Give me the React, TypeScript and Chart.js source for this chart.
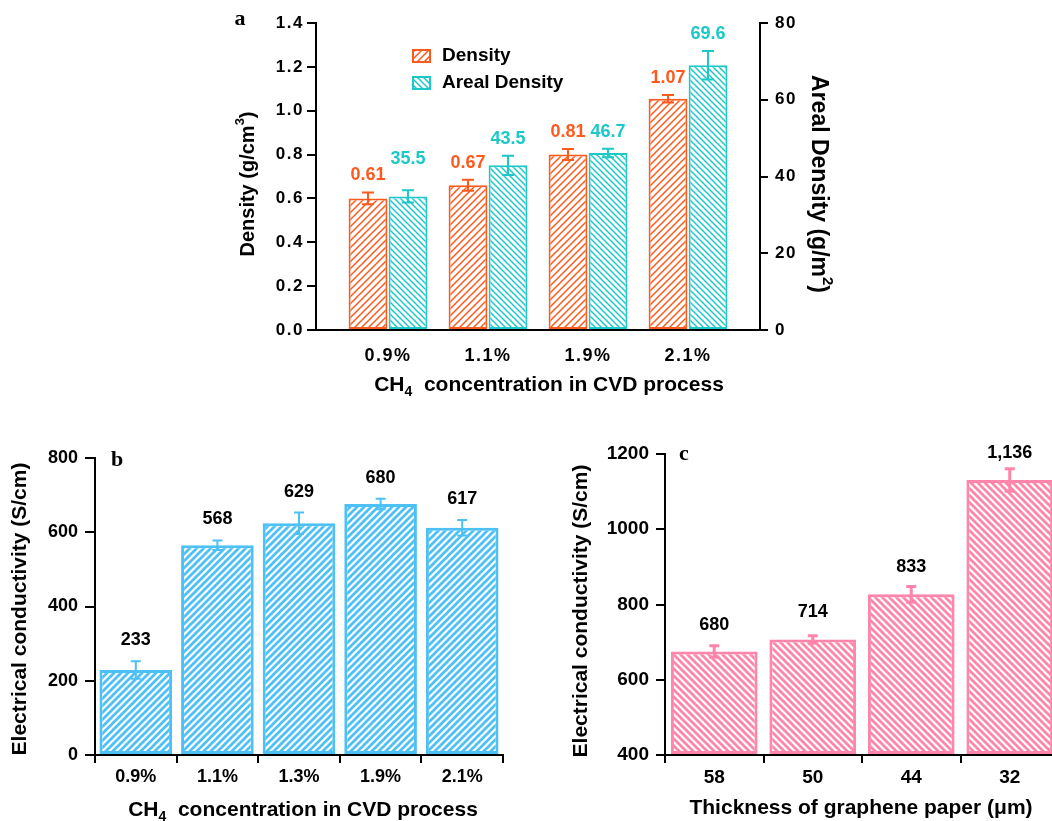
import React, { useEffect, useRef } from 'react';
import { Chart, registerables } from 'chart.js';
Chart.register(...registerables);

const FAM = "'Liberation Sans', Arial, Helvetica, sans-serif";
const SERIF = "'Liberation Serif', 'Times New Roman', serif";

// ---- Panel a ----
const catsA = ['0.9%', '1.1%', '1.9%', '2.1%'];
const densityA = [0.6, 0.66, 0.8, 1.055];
const densityErrA = [0.027, 0.025, 0.025, 0.017];
const densityLabelA = ['0.61', '0.67', '0.81', '1.07'];
const arealA = [34.8, 42.9, 46.1, 69.0];
const arealErrA = [1.6, 2.5, 1.1, 3.7];
const arealLabelA = ['35.5', '43.5', '46.7', '69.6'];

// ---- Panel b ----
const catsB = ['0.9%', '1.1%', '1.3%', '1.9%', '2.1%'];
const condB = [229, 565, 624, 676, 612];
const condErrB = [23.5, 13, 29, 14, 21];
const condLabelB = ['233', '568', '629', '680', '617'];

// ---- Panel c ----
const catsC = ['58', '50', '44', '32'];
const condC = [675, 707, 827, 1131];
const condErrC = [15.5, 10, 21, 30];
const condLabelC = ['680', '714', '833', '1,136'];

const ORANGE = '#FF5A1E';
const CYAN = '#1EC8C8';
const BLUE = '#4DC0F5';
const PINK = '#FF85AA';

function hatch(color: string, size: number, lw: number, dir: 'up' | 'down') {
  const c = document.createElement('canvas');
  c.width = size;
  c.height = size;
  const g = c.getContext('2d')!;
  g.fillStyle = '#fff';
  g.fillRect(0, 0, size, size);
  g.strokeStyle = color;
  g.lineWidth = lw;
  g.beginPath();
  for (const off of [-size, 0, size]) {
    if (dir === 'up') {
      g.moveTo(off - 1, size + 1);
      g.lineTo(off + size + 1, -1);
    } else {
      g.moveTo(off - 1, -1);
      g.lineTo(off + size + 1, size + 1);
    }
  }
  g.stroke();
  return g.createPattern(c, 'repeat')!;
}

type Seg = { t: string; s?: 'sub' | 'sup' };
function drawRich(ctx: CanvasRenderingContext2D, segs: Seg[], cx: number, cy: number, rot: number, size: number) {
  ctx.save();
  ctx.translate(cx, cy);
  ctx.rotate(rot);
  (ctx as any).letterSpacing = '0px';
  const fonts = segs.map((s) => `bold ${s.s ? Math.round(size * 0.65) : size}px ${FAM}`);
  let total = 0;
  const widths = segs.map((s, i) => {
    ctx.font = fonts[i];
    const w = ctx.measureText(s.t).width;
    total += w;
    return w;
  });
  let x = -total / 2;
  ctx.textAlign = 'left';
  ctx.textBaseline = 'middle';
  ctx.fillStyle = '#000';
  segs.forEach((s, i) => {
    ctx.font = fonts[i];
    const dy = s.s === 'sub' ? size * 0.35 : s.s === 'sup' ? -size * 0.4 : 0;
    ctx.fillText(s.t, x, dy);
    x += widths[i];
  });
  ctx.restore();
}

function errBar(ctx: CanvasRenderingContext2D, x: number, yT: number, yB: number, color: string, lw: number, half: number) {
  ctx.strokeStyle = color;
  ctx.lineWidth = lw;
  ctx.beginPath();
  ctx.moveTo(x, yT);
  ctx.lineTo(x, yB);
  ctx.moveTo(x - half, yT);
  ctx.lineTo(x + half, yT);
  ctx.moveTo(x - half, yB);
  ctx.lineTo(x + half, yB);
  ctx.stroke();
}

const axisGrid = (len: number) => ({
  display: true,
  drawOnChartArea: false,
  drawTicks: true,
  tickLength: len,
  color: '#000',
  lineWidth: 2,
});
const border = { display: true, color: '#000', width: 2 };
const font = (size: number) => ({ family: FAM, size, weight: 'bold' as const });
const plain = (v: any) => String(v);

export default function App() {
  const refA = useRef<HTMLCanvasElement>(null);
  const refB = useRef<HTMLCanvasElement>(null);
  const refC = useRef<HTMLCanvasElement>(null);

  useEffect(() => {
    Chart.defaults.color = '#000';
    Chart.defaults.font.family = FAM;
    const patOrange = hatch(ORANGE, 7, 1.5, 'up');
    const patCyan = hatch(CYAN, 6, 1.5, 'down');
    const patBlue = hatch(BLUE, 7, 2.7, 'up');
    const patPink = hatch(PINK, 7, 2.7, 'down');

    // ---------- Chart a ----------
    const ox = 220;
    const chartA = new Chart(refA.current!, {
      type: 'bar',
      data: {
        datasets: [
          {
            label: 'Density',
            data: densityA.map((y, i) => ({ x: i, y })),
            backgroundColor: patOrange,
            borderColor: ORANGE,
            borderWidth: 2,
            borderSkipped: false,
            yAxisID: 'y',
            categoryPercentage: 0.8,
            barPercentage: 0.97,
          },
          {
            label: 'Areal Density',
            data: arealA.map((y, i) => ({ x: i, y })),
            backgroundColor: patCyan,
            borderColor: CYAN,
            borderWidth: 2,
            borderSkipped: false,
            yAxisID: 'y1',
            categoryPercentage: 0.8,
            barPercentage: 0.97,
          },
        ],
      } as any,
      options: {
        animation: false,
        responsive: false,
        devicePixelRatio: 1,
        layout: { padding: { top: 23, left: 0, right: 0, bottom: 30 } },
        plugins: { legend: { display: false }, tooltip: { enabled: false } },
        scales: {
          x: {
            type: 'linear',
            min: -0.72,
            max: 3.72,
            offset: false,
            grid: { display: false },
            border,
            afterBuildTicks: (s: any) => {
              s.ticks = catsA.map((_, i) => ({ value: i }));
            },
            ticks: {
              callback: (v: any) => catsA[v] ?? '',
              font: font(18),
              color: '#000',
              padding: 7,
              maxRotation: 0,
              autoSkip: false,
            },
            afterFit: (s: any) => {
              s.height = 40;
            },
          },
          y: {
            type: 'linear',
            position: 'left',
            min: 0,
            max: 1.4,
            ticks: { stepSize: 0.2, callback: (v: any) => Number(v).toFixed(1), font: font(17), color: '#000', padding: 3 },
            grid: axisGrid(9),
            border,
            afterFit: (s: any) => {
              s.width = 96;
            },
          },
          y1: {
            type: 'linear',
            position: 'right',
            min: 0,
            max: 80,
            ticks: { stepSize: 20, callback: plain, font: font(17), color: '#000', padding: 7 },
            grid: axisGrid(8),
            border,
            afterFit: (s: any) => {
              s.width = 100;
            },
          },
        },
      } as any,
      plugins: [
        {
          id: 'spacingA',
          beforeDraw(c: any) {
            c.ctx.letterSpacing = '1.5px';
          },
        },
        {
          id: 'extrasA',
          afterDraw(c: any) {
            const ctx = c.ctx as CanvasRenderingContext2D;
            ctx.save();
            (ctx as any).letterSpacing = '0px';
            const sets = [
              { vals: densityA, errs: densityErrA, labels: densityLabelA, color: ORANGE, scale: c.scales.y },
              { vals: arealA, errs: arealErrA, labels: arealLabelA, color: CYAN, scale: c.scales.y1 },
            ];
            sets.forEach((s, di) => {
              const meta = c.getDatasetMeta(di);
              s.vals.forEach((v, j) => {
                const x = meta.data[j].x;
                const yT = s.scale.getPixelForValue(v + s.errs[j]);
                const yB = s.scale.getPixelForValue(v - s.errs[j]);
                errBar(ctx, x, yT, yB, s.color, 2, 6);
                ctx.fillStyle = s.color;
                ctx.font = `bold 18px ${FAM}`;
                ctx.textAlign = 'center';
                ctx.textBaseline = 'middle';
                const lift = di === 1 && j === 0 ? 31 : 17;
                ctx.fillText(s.labels[j], x, yT - lift);
              });
            });
            // legend
            const leg = [
              { t: 'Density', pat: patOrange, col: ORANGE, y: 49 },
              { t: 'Areal Density', pat: patCyan, col: CYAN, y: 76 },
            ];
            leg.forEach((l) => {
              const bx = 412 - ox;
              ctx.fillStyle = l.pat;
              ctx.fillRect(bx, l.y, 19, 14);
              ctx.strokeStyle = l.col;
              ctx.lineWidth = 2;
              ctx.strokeRect(bx + 1, l.y + 1, 17, 12);
              ctx.fillStyle = '#000';
              ctx.font = `bold 19px ${FAM}`;
              ctx.textAlign = 'left';
              ctx.textBaseline = 'middle';
              ctx.fillText(l.t, 442 - ox, l.y + 7);
            });
            drawRich(ctx, [{ t: 'Density (g/cm' }, { t: '3', s: 'sup' }, { t: ')' }], 248 - ox, 184, -Math.PI / 2, 20);
            drawRich(ctx, [{ t: 'Areal Density (g/m' }, { t: '2', s: 'sup' }, { t: ')' }], 818 - ox, 184, Math.PI / 2, 23);
            drawRich(ctx, [{ t: 'CH' }, { t: '4', s: 'sub' }, { t: '  concentration in CVD process' }], 549 - ox, 385, 0, 21);
            ctx.font = `bold 22px ${SERIF}`;
            ctx.fillStyle = '#000';
            ctx.textAlign = 'center';
            ctx.textBaseline = 'middle';
            ctx.fillText('a', 240 - ox, 19);
            ctx.restore();
          },
        },
      ],
    });

    // ---------- Chart b ----------
    const bx0 = 0;
    const by0 = 430;
    const chartB = new Chart(refB.current!, {
      type: 'bar',
      data: {
        labels: catsB,
        datasets: [
          {
            data: condB,
            backgroundColor: patBlue,
            borderColor: BLUE,
            borderWidth: 3,
            borderSkipped: false,
            categoryPercentage: 1,
            barPercentage: 0.89,
          },
        ],
      },
      options: {
        animation: false,
        responsive: false,
        devicePixelRatio: 1,
        layout: { padding: { top: 28, left: 0, right: 27, bottom: 26 } },
        plugins: { legend: { display: false }, tooltip: { enabled: false } },
        scales: {
          x: {
            type: 'category',
            offset: true,
            grid: { ...axisGrid(8), offset: true },
            border,
            ticks: { font: font(18), color: '#000', padding: 3, maxRotation: 0, autoSkip: false },
            afterFit: (s: any) => {
              s.height = 40;
            },
          },
          y: {
            type: 'linear',
            min: 0,
            max: 800,
            ticks: { stepSize: 200, callback: plain, font: font(18), color: '#000', padding: 7 },
            grid: axisGrid(10),
            border,
            afterFit: (s: any) => {
              s.width = 95;
            },
          },
        },
      } as any,
      plugins: [
        {
          id: 'extrasB',
          afterDraw(c: any) {
            const ctx = c.ctx as CanvasRenderingContext2D;
            ctx.save();
            const meta = c.getDatasetMeta(0);
            condB.forEach((v, j) => {
              const x = meta.data[j].x;
              const yT = c.scales.y.getPixelForValue(v + condErrB[j]);
              const yB = c.scales.y.getPixelForValue(v - condErrB[j]);
              errBar(ctx, x, yT, yB, BLUE, 2, 5);
              ctx.fillStyle = '#000';
              ctx.font = `bold 18px ${FAM}`;
              ctx.textAlign = 'center';
              ctx.textBaseline = 'middle';
              ctx.fillText(condLabelB[j], x, yT - 21);
            });
            drawRich(ctx, [{ t: 'Electrical conductivity (S/cm)' }], 20 - bx0, 609 - by0, -Math.PI / 2, 21);
            drawRich(ctx, [{ t: 'CH' }, { t: '4', s: 'sub' }, { t: '  concentration in CVD process' }], 303 - bx0, 810 - by0, 0, 21);
            ctx.font = `bold 22px ${SERIF}`;
            ctx.fillStyle = '#000';
            ctx.textAlign = 'center';
            ctx.textBaseline = 'middle';
            ctx.fillText('b', 117 - bx0, 460 - by0);
            ctx.restore();
          },
        },
      ],
    });

    // ---------- Chart c ----------
    const cx0 = 540;
    const cy0 = 430;
    const chartC = new Chart(refC.current!, {
      type: 'bar',
      data: {
        labels: catsC,
        datasets: [
          {
            data: condC,
            base: 400,
            backgroundColor: patPink,
            borderColor: PINK,
            borderWidth: 3,
            borderSkipped: false,
            categoryPercentage: 1,
            barPercentage: 0.88,
          },
        ],
      } as any,
      options: {
        animation: false,
        responsive: false,
        devicePixelRatio: 1,
        layout: { padding: { top: 24, left: 0, right: 21, bottom: 26 } },
        plugins: { legend: { display: false }, tooltip: { enabled: false } },
        scales: {
          x: {
            type: 'category',
            offset: true,
            grid: { ...axisGrid(8), offset: true },
            border,
            ticks: { font: font(19), color: '#000', padding: 3, maxRotation: 0, autoSkip: false },
            afterFit: (s: any) => {
              s.height = 40;
            },
          },
          y: {
            type: 'linear',
            min: 400,
            max: 1200,
            ticks: { stepSize: 200, callback: plain, font: font(19), color: '#000', padding: 7 },
            grid: axisGrid(9),
            border,
            afterFit: (s: any) => {
              s.width = 125;
            },
          },
        },
      } as any,
      plugins: [
        {
          id: 'extrasC',
          afterDraw(c: any) {
            const ctx = c.ctx as CanvasRenderingContext2D;
            ctx.save();
            const meta = c.getDatasetMeta(0);
            condC.forEach((v, j) => {
              const x = meta.data[j].x;
              const yT = c.scales.y.getPixelForValue(v + condErrC[j]);
              const yB = c.scales.y.getPixelForValue(v - condErrC[j]);
              errBar(ctx, x, yT, yB, PINK, 3, 5);
              ctx.fillStyle = '#000';
              ctx.font = `bold 18px ${FAM}`;
              ctx.textAlign = 'center';
              ctx.textBaseline = 'middle';
              ctx.fillText(condLabelC[j], x, c.scales.y.getPixelForValue(v) - 27);
            });
            drawRich(ctx, [{ t: 'Electrical conductivity (S/cm)' }], 581 - cx0, 611 - cy0, -Math.PI / 2, 21);
            drawRich(ctx, [{ t: 'Thickness of graphene paper (\u03bcm)' }], 861 - cx0, 808 - cy0, 0, 21);
            ctx.font = `bold 22px ${SERIF}`;
            ctx.fillStyle = '#000';
            ctx.textAlign = 'center';
            ctx.textBaseline = 'middle';
            ctx.fillText('c', 684 - cx0, 454 - cy0);
            ctx.restore();
          },
        },
      ],
    });

    return () => {
      chartA.destroy();
      chartB.destroy();
      chartC.destroy();
    };
  }, []);

  return (
    <div style={{ position: 'fixed', left: 0, top: 0, width: 1052, height: 821, overflow: 'hidden', background: '#fff' }}>
      <canvas ref={refA} width={640} height={400} style={{ position: 'absolute', left: 220, top: 0, width: 640, height: 400 }} />
      <canvas ref={refB} width={530} height={391} style={{ position: 'absolute', left: 0, top: 430, width: 530, height: 391 }} />
      <canvas ref={refC} width={540} height={391} style={{ position: 'absolute', left: 540, top: 430, width: 540, height: 391 }} />
    </div>
  );
}
